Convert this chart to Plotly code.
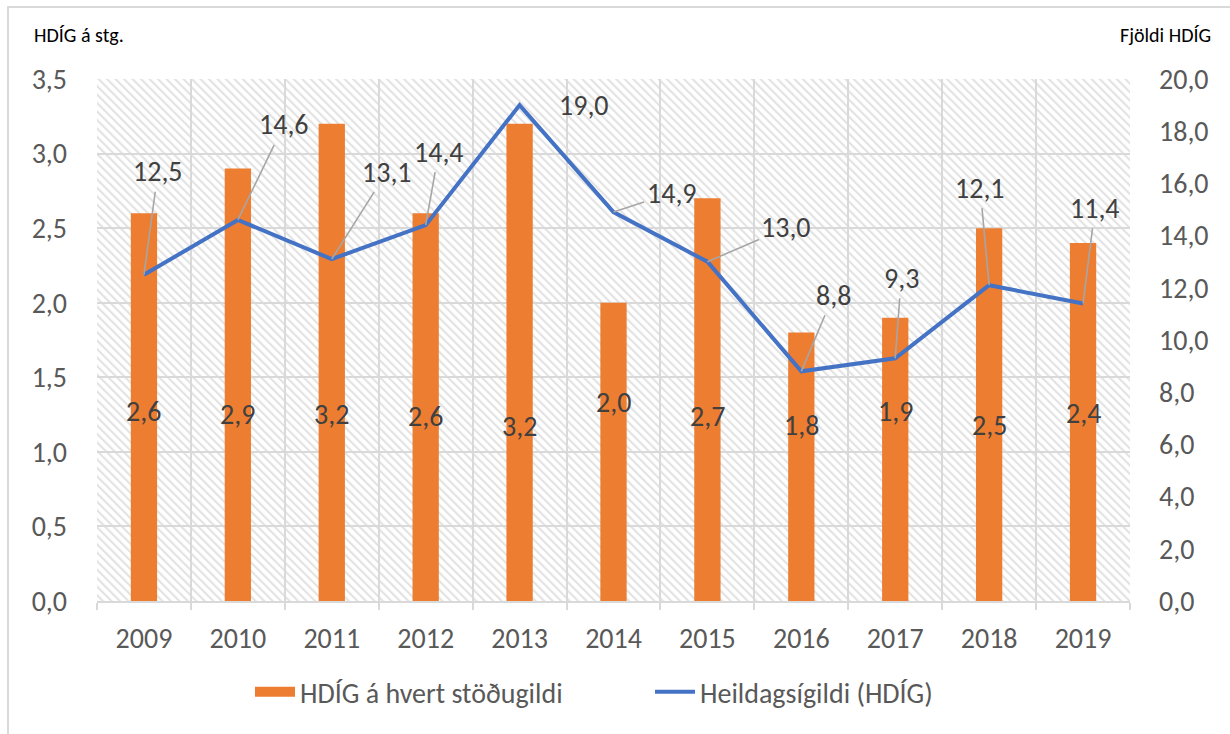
import base64
import plotly.graph_objects as go

# ---- data -------------------------------------------------------------
years = ["2009", "2010", "2011", "2012", "2013", "2014",
         "2015", "2016", "2017", "2018", "2019"]
hdig_per_staff = [2.6, 2.9, 3.2, 2.6, 3.2, 2.0, 2.7, 1.8, 1.9, 2.5, 2.4]
hdig_total = [12.5, 14.6, 13.1, 14.4, 19.0, 14.9, 13.0, 8.8, 9.3, 12.1, 11.4]

left_title = "HDÍG á stg."
right_title = "Fjöldi HDÍG"
bar_name = "HDÍG á hvert stöðugildi"
line_name = "Heildagsígildi (HDÍG)"

# ---- label placement (layout only) -----------------------------------
# height (left-axis units) at which each bar's value label sits
bar_label_y = [1.27, 1.25, 1.25, 1.24, 1.17, 1.33, 1.24, 1.18, 1.27, 1.18, 1.26]
# pixel offsets of each line label from its point, and whether a leader is drawn
line_label_dx = [14, 46, 55, 13, 64, 58, 79, 32, 6, -9, 12]
line_label_dy = [-103, -95, -87, -73, 0, -19, -34, -76, -80, -97, -95]
line_label_leader = [True, True, True, True, False, True, True, True, True, True, True]

ORANGE = "#ED7D31"
BLUE = "#4472C4"
GRID = "#d9d9d9"
TICK = "#595959"
LABEL = "#404040"
FONT = "Carlito, Lato, sans-serif"
FS = 28

W, H = 1230, 734
M_L, M_R, M_T, M_B = 97, 100, 79, 133
PW, PH = W - M_L - M_R, H - M_T - M_B


def fmt(v):
    return f"{v:.1f}".replace(".", ",")


def px_x(px):
    return (px - M_L) / PW


def px_y(py):
    return (H - M_B - py) / PH


# diagonal hatch used as the plot-area background
hatch_svg = (
    f'<svg xmlns="http://www.w3.org/2000/svg" width="{PW}" height="{PH}" '
    f'viewBox="0 0 {PW} {PH}"><defs>'
    '<pattern id="h" width="6" height="6" patternUnits="userSpaceOnUse" '
    'patternTransform="rotate(-45)">'
    '<rect x="0" y="0" width="2.2" height="6" fill="#e3e3e3"/></pattern></defs>'
    f'<rect width="{PW}" height="{PH}" fill="url(#h)"/></svg>'
)
hatch_uri = "data:image/svg+xml;base64," + base64.b64encode(hatch_svg.encode()).decode()

fig = go.Figure()

fig.add_trace(go.Bar(
    x=years, y=hdig_per_staff, name=bar_name,
    marker=dict(color=ORANGE, line=dict(width=0)),
    width=0.28, showlegend=False, hoverinfo="skip",
))

fig.add_trace(go.Scatter(
    x=years, y=hdig_total, name=line_name, yaxis="y2",
    mode="lines", line=dict(color=BLUE, width=4),
    showlegend=False, hoverinfo="skip",
))

# legend entries (wide swatch for the bar series); no points are drawn
fig.add_trace(go.Scatter(
    x=years[:1], y=[None], name=bar_name, mode="lines",
    line=dict(color=ORANGE, width=18), hoverinfo="skip",
))
fig.add_trace(go.Scatter(
    x=years[:1], y=[None], name=line_name, mode="lines",
    line=dict(color=BLUE, width=4), hoverinfo="skip",
))

# on a category axis annotations are placed by category index
annotations = []
for i, (v, ly) in enumerate(zip(hdig_per_staff, bar_label_y)):
    annotations.append(dict(
        x=i, y=ly, xref="x", yref="y", text=fmt(v), showarrow=False,
        font=dict(family=FONT, size=FS, color=LABEL),
    ))

for i, (v, dx, dy, lead) in enumerate(zip(hdig_total, line_label_dx,
                                          line_label_dy, line_label_leader)):
    annotations.append(dict(
        x=i, y=v, xref="x", yref="y2", text=fmt(v),
        showarrow=True, arrowhead=0, arrowwidth=1.6,
        arrowcolor="#a6a6a6" if lead else "rgba(0,0,0,0)",
        ax=dx, ay=dy, standoff=0, startstandoff=1,
        font=dict(family=FONT, size=FS, color=LABEL),
    ))

annotations.append(dict(
    x=px_x(32), y=px_y(35), xref="paper", yref="paper", xanchor="left",
    yanchor="middle", text=left_title, showarrow=False,
    font=dict(family=FONT, size=20, color="#000000"),
))
annotations.append(dict(
    x=px_x(1213), y=px_y(35), xref="paper", yref="paper", xanchor="right",
    yanchor="middle", text=right_title, showarrow=False,
    font=dict(family=FONT, size=20, color="#000000"),
))

fig.update_layout(
    width=W, height=H,
    margin=dict(l=M_L, r=M_R, t=M_T, b=M_B),
    paper_bgcolor="white", plot_bgcolor="white",
    separators=",.",
    barmode="overlay",
    font=dict(family=FONT, size=FS, color=TICK),
    annotations=annotations,
    images=[dict(
        source=hatch_uri, xref="paper", yref="paper", x=0, y=1,
        sizex=1, sizey=1, xanchor="left", yanchor="top",
        sizing="stretch", layer="below",
    )],
    shapes=[dict(
        type="rect", xref="paper", yref="paper",
        x0=px_x(8), x1=px_x(1260), y0=px_y(760), y1=px_y(7),
        line=dict(color=GRID, width=2), fillcolor="rgba(0,0,0,0)", layer="below",
    )],
    legend=dict(
        orientation="h", x=px_x(250), y=px_y(692), xanchor="left", yanchor="middle",
        font=dict(family=FONT, size=FS, color=TICK),
        itemwidth=40, entrywidth=345, bgcolor="rgba(0,0,0,0)",
    ),
    xaxis=dict(
        type="category", categoryorder="array", categoryarray=years,
        range=[-0.5, len(years) - 0.5], tickson="boundaries",
        showgrid=True, gridcolor=GRID, gridwidth=2,
        showline=True, linecolor=GRID, linewidth=2,
        ticks="outside", ticklen=7, tickcolor=GRID, tickwidth=2,
        tickfont=dict(family=FONT, size=FS, color=TICK),
        tickangle=0, ticklabelstandoff=11,
    ),
    yaxis=dict(
        range=[0, 3.5], dtick=0.5, tickformat=".1f",
        showgrid=True, gridcolor=GRID, gridwidth=2, zeroline=False,
        showline=False, ticks="",
        tickfont=dict(family=FONT, size=FS, color=TICK),
        ticklabelstandoff=29,
    ),
    yaxis2=dict(
        range=[0, 20], dtick=2, tickformat=".1f", overlaying="y", side="right",
        showgrid=False, zeroline=False, showline=False, ticks="",
        tickfont=dict(family=FONT, size=FS, color=TICK),
        ticklabelstandoff=28,
    ),
)

fig.write_html("out.html")
